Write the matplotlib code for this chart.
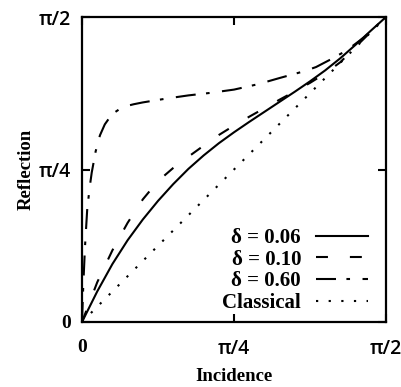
import numpy as np
import matplotlib
matplotlib.use("Agg")
import matplotlib.pyplot as plt

plt.rcParams['lines.scale_dashes'] = False

# values in units of pi/2
u_006 = [0, 0.05, 0.1, 0.15, 0.2, 0.25, 0.3, 0.35, 0.4, 0.45, 0.5, 0.55, 0.6, 0.65, 0.7,
         0.75, 0.8, 0.85, 0.9, 0.95, 1]
v_006 = [0, 0.1, 0.19, 0.268, 0.336, 0.397, 0.452, 0.502, 0.546, 0.586, 0.622, 0.656,
         0.689, 0.722, 0.755, 0.789, 0.825, 0.865, 0.909, 0.955, 1]

u_010 = [0, 0.05, 0.1, 0.15, 0.2, 0.25, 0.3, 0.35, 0.4, 0.45, 0.5, 0.55, 0.6, 0.65, 0.7,
         0.75, 0.8, 0.85, 0.9, 0.95, 1]
v_010 = [0, 0.13, 0.235, 0.325, 0.402, 0.462, 0.505, 0.542, 0.578, 0.613, 0.644, 0.673,
         0.701, 0.729, 0.756, 0.784, 0.815, 0.852, 0.902, 0.951, 1]

u_060 = [0, 0.004, 0.01, 0.017, 0.025, 0.032, 0.045, 0.059, 0.075, 0.092, 0.11, 0.125, 0.15,
         0.17, 0.2, 0.28, 0.35, 0.42, 0.5, 0.58, 0.65, 0.73, 0.77, 0.82, 0.87, 0.93, 1.0]
v_060 = [0, 0.116, 0.25, 0.367, 0.44, 0.49, 0.56, 0.612, 0.648, 0.672, 0.689, 0.699, 0.709,
         0.714, 0.72, 0.733, 0.743, 0.751, 0.762, 0.78, 0.80, 0.822, 0.836, 0.862, 0.89, 0.935, 1.0]

u_cl = [0, 1]
v_cl = [0, 1]

tick_vals = [0, np.pi / 4, np.pi / 2]
tick_labels = ["0", "π/4", "π/2"]

half_pi = np.pi / 2

fig = plt.figure(figsize=(4.01, 3.87), dpi=100)
ax = fig.add_axes([0.2045, 0.168, 0.758, 0.788])

lw = 1.5
ax.plot(np.array(u_006) * half_pi, np.array(v_006) * half_pi, color="black", lw=lw,
        label="δ = 0.06")
ax.plot(np.array(u_010) * half_pi, np.array(v_010) * half_pi, color="black", lw=lw,
        linestyle=(0, (8.6, 15.8)), label="δ = 0.10")
ax.plot(np.array(u_060) * half_pi, np.array(v_060) * half_pi, color="black", lw=lw,
        linestyle=(0, (14.4, 7.5, 2.6, 9.0)), label="δ = 0.60")
ax.plot(np.array(u_cl) * half_pi, np.array(v_cl) * half_pi, color="black", lw=lw,
        linestyle=(0, (1.6, 7.5)), label="Classical")

ax.set_xlim(0, half_pi)
ax.set_ylim(0, half_pi)
ax.set_xticks(tick_vals)
ax.set_yticks(tick_vals)
ax.set_xticklabels(tick_labels)
ax.set_yticklabels(tick_labels)
ax.tick_params(direction="in", length=6, width=1.5, top=True, right=True,
               labelsize=14)
ax.tick_params(axis="x", pad=12)
ax.tick_params(axis="y", pad=8)
for lab in ax.get_xticklabels() + ax.get_yticklabels():
    if lab.get_text() == "0":
        lab.set_family("Liberation Serif")
        lab.set_weight("bold")
        lab.set_fontsize(14)
    else:
        lab.set_family("Open Sans")
        lab.set_weight("semibold")

for sp in ax.spines.values():
    sp.set_linewidth(1.6)

ax.set_xlabel("Incidence", family="Liberation Serif", weight="bold", fontsize=13.5, labelpad=7)
ax.set_ylabel("Reflection", family="Liberation Serif", weight="bold", fontsize=13.5, labelpad=3)

leg = ax.legend(loc="lower right", bbox_to_anchor=(0.94, 0.03), frameon=False,
                markerfirst=False, handlelength=2.5, handletextpad=0.7,
                labelspacing=0.08, borderpad=0, borderaxespad=0,
                prop={"family": "Liberation Serif", "weight": "bold", "size": 15})

fig.savefig("out.png", dpi=100)
